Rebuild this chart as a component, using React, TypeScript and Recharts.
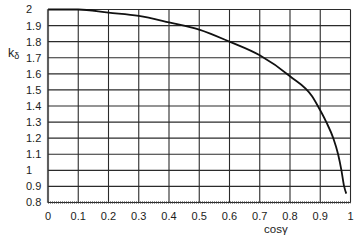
import React from "react";
import { LineChart, Line, XAxis, YAxis, CartesianGrid } from "recharts";

const cosGamma = [0, 0.1, 0.2, 0.3, 0.4, 0.5, 0.6, 0.7, 0.8, 0.873, 0.892, 0.92, 0.943, 0.959, 0.97, 0.979, 0.986];
const kDelta = [2.0, 2.0, 1.98, 1.96, 1.92, 1.875, 1.8, 1.715, 1.585, 1.46, 1.4, 1.3, 1.2, 1.1, 1.0, 0.9, 0.855];

const xTicks = [0, 0.1, 0.2, 0.3, 0.4, 0.5, 0.6, 0.7, 0.8, 0.9, 1];
const yTicks = [0.8, 0.9, 1, 1.1, 1.2, 1.3, 1.4, 1.5, 1.6, 1.7, 1.8, 1.9, 2];

const data = cosGamma.map((c, i) => ({ c, k: kDelta[i] }));

const FONT = "'Liberation Sans', Arial, Helvetica, sans-serif";
const INK = "#1c1c1c";

const YTick = (props: any) => {
  const { x, y, payload } = props;
  return (
    <text x={x - 22} y={y} dy="0.36em" textAnchor="start" fontSize={11} fontFamily={FONT} fill={INK}>
      {String(payload.value)}
    </text>
  );
};

const KLabel = () => (
  <text x={8} y={56.5} fontFamily={FONT} fill={INK}>
    <tspan fontSize={12.5}>k</tspan>
    <tspan fontSize={9} dy={2}>δ</tspan>
  </text>
);

const CosLabel = () => (
  <text x={264} y={232.5} fontSize={11.5} fontFamily={FONT} fill={INK}>
    cosγ
  </text>
);

export default function App() {
  return (
    <div style={{ position: "absolute", left: 0, top: 0, background: "#fff" }}>
      <LineChart width={360} height={241} data={data}
        margin={{ top: 9.5, right: 9.5, left: 0, bottom: 8.5 }}>
        <CartesianGrid stroke="#2b2b2b" strokeWidth={1.1} />
        <XAxis dataKey="c" type="number" domain={[0, 1]} ticks={xTicks} interval={0}
          tickSize={0} tickMargin={10} height={30}
          tick={{ fontSize: 11, fontFamily: FONT, fill: INK }}
          axisLine={{ stroke: "#333", strokeWidth: 2.2, strokeDasharray: "1 1" }}
          label={<CosLabel />} />
        <YAxis type="number" domain={[0.8, 2]} ticks={yTicks} interval={0} width={48}
          tickSize={0} tickMargin={0} tick={<YTick />}
          axisLine={{ stroke: "#333", strokeWidth: 2.2, strokeDasharray: "1 1" }}
          label={<KLabel />} />
        <Line type="monotone" dataKey="k" stroke="#111" strokeWidth={1.8}
          dot={false} isAnimationActive={false} />
      </LineChart>
    </div>
  );
}
